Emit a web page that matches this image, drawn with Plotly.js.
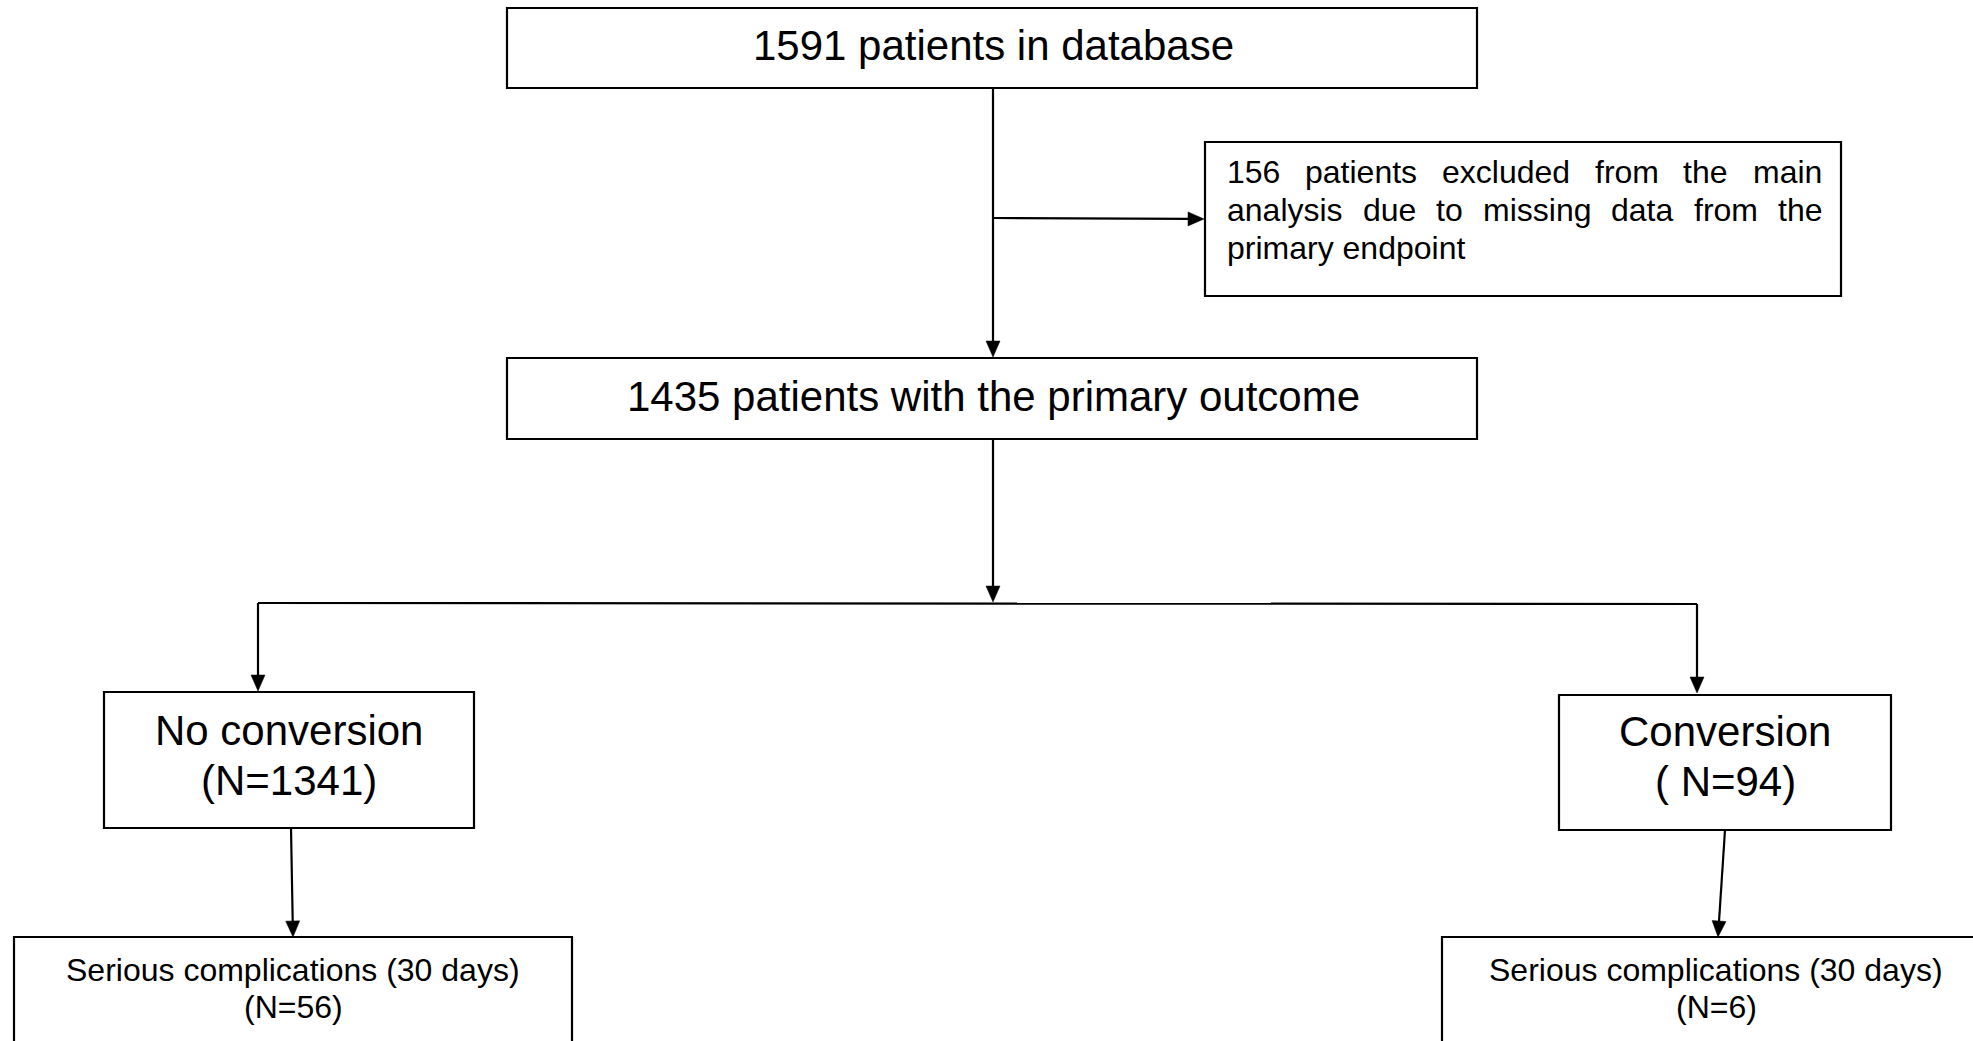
<!DOCTYPE html>
<html>
<head>
<meta charset="utf-8">
<script src="https://cdn.plot.ly/plotly-3.0.1.min.js"></script>
<style>
  html, body { margin: 0; padding: 0; background: #ffffff; }
  #chart { width: 1973px; height: 1041px; }
</style>
</head>
<body>
<div id="chart"></div>
<script>
// ---- Flowchart data ----
// Boxes (pixel-like coordinate space of the drawing)
const boxNames = ["database", "excluded", "outcome", "noConversion", "conversion", "complNo", "complConv"];
const boxX0 = [507, 1205, 507, 104, 1559, 14, 1442];
const boxX1 = [1477, 1841, 1477, 474, 1891, 572, 1990];
const boxY0 = [8, 142, 358, 692, 695, 937, 937];
const boxY1 = [88, 296, 439, 828, 830, 1060, 1060];

// Centered text lines
const labelText = [
  "1591 patients in database",
  "1435 patients with the primary outcome",
  "No conversion", "(N=1341)",
  "Conversion", "( N=94)",
  "Serious complications (30 days)", "(N=56)",
  "Serious complications (30 days)", "(N=6)"
];
const labelX = [993, 993, 289, 289, 1725, 1725, 293, 293, 1716, 1716];
const labelY = [45, 396, 730, 780, 731, 781, 970, 1007, 970, 1007];
const labelSize = [42, 42, 42, 42, 42, 42, 32, 32, 32, 32];

// Justified text in the exclusion box
const exclLines = [
  "156 patients excluded from the main",
  "analysis due to missing data from the",
  "primary endpoint"
];
const exclJustify = [true, true, false];
const exclLeft = 1226;
const exclRight = 1821;
const exclY = [172, 210, 248];
const exclSize = 32;

// Connectors: [x0, y0, x1, y1], arrow at end?
const segX0 = [993, 993, 993, 258, 258, 1697, 291, 1725];
const segY0 = [88, 218, 439, 603, 603, 604, 828, 830];
const segX1 = [993, 1204, 993, 1697, 258, 1697, 293, 1718];
const segY1 = [357, 219, 602, 604, 691, 693, 937, 937];
const segArrow = [true, true, true, false, true, true, true, true];

// ---- Build figure ----
const FONT = "Liberation Sans, Arial, sans-serif";
const shapes = [];
const annotations = [];
const LW = 2.2;

for (let i = 0; i < boxNames.length; i++) {
  shapes.push({
    type: "rect", xref: "x", yref: "y",
    x0: boxX0[i], x1: boxX1[i], y0: boxY0[i], y1: boxY1[i],
    line: { color: "#000000", width: LW }, fillcolor: "#ffffff", layer: "below"
  });
}

const headLen = 16, headHalf = 7;
for (let i = 0; i < segX0.length; i++) {
  let ex = segX1[i], ey = segY1[i];
  const dx = segX1[i] - segX0[i], dy = segY1[i] - segY0[i];
  const L = Math.sqrt(dx * dx + dy * dy);
  const ux = dx / L, uy = dy / L;
  let lx = ex, ly = ey;
  if (segArrow[i]) { lx = ex - ux * (headLen - 2); ly = ey - uy * (headLen - 2); }
  shapes.push({
    type: "line", xref: "x", yref: "y",
    x0: segX0[i], y0: segY0[i], x1: lx, y1: ly,
    line: { color: "#000000", width: LW }
  });
  if (segArrow[i]) {
    const bx = ex - ux * headLen, by = ey - uy * headLen;
    const px = -uy, py = ux;
    const p = "M" + ex + "," + ey +
      " L" + (bx + px * headHalf) + "," + (by + py * headHalf) +
      " L" + (bx - px * headHalf) + "," + (by - py * headHalf) + " Z";
    shapes.push({
      type: "path", xref: "x", yref: "y", path: p,
      line: { color: "#000000", width: 0.5 }, fillcolor: "#000000"
    });
  }
}

for (let i = 0; i < labelText.length; i++) {
  annotations.push({
    x: labelX[i], y: labelY[i], xref: "x", yref: "y",
    text: labelText[i], showarrow: false,
    xanchor: "center", yanchor: "middle", borderpad: 0,
    font: { family: FONT, size: labelSize[i], color: "#000000" }
  });
}

// Justified lines: measure word widths with canvas
const ctx = document.createElement("canvas").getContext("2d");
ctx.font = exclSize + "px 'Liberation Sans'";
for (let li = 0; li < exclLines.length; li++) {
  if (!exclJustify[li]) {
    annotations.push({
      x: exclLeft, y: exclY[li], xref: "x", yref: "y",
      text: exclLines[li], showarrow: false,
      xanchor: "left", yanchor: "middle", borderpad: 0,
      font: { family: FONT, size: exclSize, color: "#000000" }
    });
    continue;
  }
  const words = exclLines[li].split(" ");
  const widths = words.map(w => ctx.measureText(w).width);
  const total = widths.reduce((a, b) => a + b, 0);
  const gap = (exclRight - exclLeft - total) / (words.length - 1);
  let cx = exclLeft;
  for (let wi = 0; wi < words.length; wi++) {
    annotations.push({
      x: cx, y: exclY[li], xref: "x", yref: "y",
      text: words[wi], showarrow: false,
      xanchor: "left", yanchor: "middle", borderpad: 0,
      font: { family: FONT, size: exclSize, color: "#000000" }
    });
    cx += widths[wi] + gap;
  }
}

const layout = {
  width: 1973, height: 1041,
  margin: { l: 0, r: 0, t: 0, b: 0, pad: 0 },
  paper_bgcolor: "#ffffff", plot_bgcolor: "#ffffff",
  showlegend: false,
  xaxis: { range: [0, 1973], visible: false, fixedrange: true },
  yaxis: { range: [1041, 0], visible: false, fixedrange: true },
  shapes: shapes,
  annotations: annotations
};

Plotly.newPlot("chart", [{ x: [], y: [], type: "scatter", mode: "markers", hoverinfo: "skip" }], layout,
  { displayModeBar: false, staticPlot: true });
</script>
</body>
</html>
